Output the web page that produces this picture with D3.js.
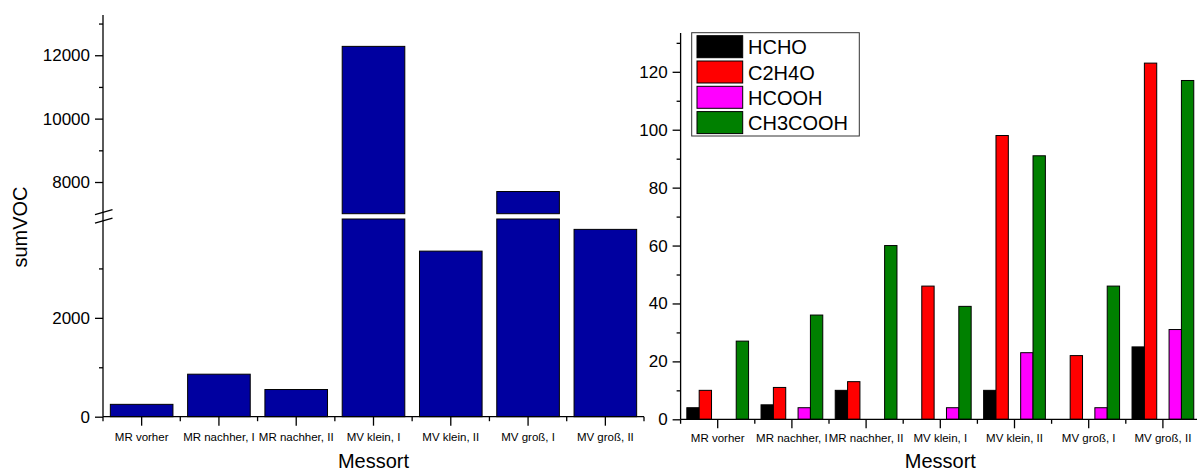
<!DOCTYPE html>
<html>
<head>
<meta charset="utf-8">
<script src="https://cdn.jsdelivr.net/npm/d3@7"></script>
<style>
  body { margin: 0; background: #fff; }
  svg { display: block; font-family: "Liberation Sans", Arial, sans-serif; }
</style>
</head>
<body>
<svg id="chart" width="1197" height="472"></svg>
<script>
// ---------- data ----------
const categories = ["MR vorher", "MR nachher, I", "MR nachher, II", "MV klein, I", "MV klein, II", "MV groß, I", "MV groß, II"];
const sumVOC = [250, 860, 550, 12280, 3350, 7700, 3790];

const seriesNames = ["HCHO", "C2H4O", "HCOOH", "CH3COOH"];
const HCHO    = [4, 5, 10, 0, 10, 0, 25];
const C2H4O   = [10, 11, 13, 46, 98, 22, 123];
const HCOOH   = [0, 4, 0, 4, 23, 4, 31];
const CH3COOH = [27, 36, 60, 39, 91, 46, 117];
const seriesValues = [HCHO, C2H4O, HCOOH, CH3COOH];
const seriesColors = ["#000000", "#ff0000", "#ff00ff", "#008000"];

const leftLowerTicks = [0, 2000];
const leftLowerMinor = [1000, 3000];
const leftUpperTicks = [8000, 10000, 12000];
const leftUpperMinor = [9000, 11000, 13000];
const rightTicks = [0, 20, 40, 60, 80, 100, 120];
const rightMinor = [10, 30, 50, 70, 90, 110, 130];

// ---------- setup ----------
const svg = d3.select("#chart");
const tickFont = 17, catFont = 11.5, titleFont = 20;

// ---------- left chart ----------
const L = { x0: 103, x1: 644, y0: 416.7 };
const xL = d3.scaleBand().domain(categories).range([L.x0, L.x1]).paddingInner(0.19).paddingOuter(0.095);
const yLow = d3.scaleLinear().domain([0, 4000]).range([416.7, 219]);
const yUp = d3.scaleLinear().domain([7000, 13270]).range([213.7, 15]);
const barBlue = "#0000a0";

const gL = svg.append("g");
categories.forEach((c, i) => {
  const v = sumVOC[i];
  const x = xL(c), w = xL.bandwidth();
  const lowTop = v > 4000 ? yLow(4000) : yLow(v);
  gL.append("rect").attr("x", x).attr("y", lowTop).attr("width", w).attr("height", yLow(0) - lowTop)
    .attr("fill", barBlue).attr("stroke", "#000").attr("stroke-width", 1);
  if (v > 7000) {
    const upTop = yUp(v);
    gL.append("rect").attr("x", x).attr("y", upTop).attr("width", w).attr("height", yUp(7000) - upTop)
      .attr("fill", barBlue).attr("stroke", "#000").attr("stroke-width", 1);
  }
});

function styleAxis(g) {
  g.select(".domain").remove();
  g.selectAll("line").attr("stroke", "#000").attr("stroke-width", 1.3);
  g.selectAll("text").attr("font-size", tickFont).attr("fill", "#000")
    .attr("font-family", "'Liberation Sans', Arial, sans-serif");
}

// y axis, lower & upper segments
svg.append("g").attr("transform", `translate(${L.x0},0)`)
  .call(d3.axisLeft(yLow).tickValues(leftLowerTicks).tickSize(8).tickPadding(5).tickFormat(d3.format("d")))
  .call(styleAxis);
svg.append("g").attr("transform", `translate(${L.x0},0)`)
  .call(d3.axisLeft(yLow).tickValues(leftLowerMinor).tickSize(4).tickFormat(""))
  .call(styleAxis);
svg.append("g").attr("transform", `translate(${L.x0},0)`)
  .call(d3.axisLeft(yUp).tickValues(leftUpperTicks).tickSize(8).tickPadding(5).tickFormat(d3.format("d")))
  .call(styleAxis);
svg.append("g").attr("transform", `translate(${L.x0},0)`)
  .call(d3.axisLeft(yUp).tickValues(leftUpperMinor).tickSize(4).tickFormat(""))
  .call(styleAxis);
svg.append("line").attr("x1", L.x0).attr("x2", L.x0).attr("y1", yUp.range()[1]).attr("y2", yLow(0))
  .attr("stroke", "#000").attr("stroke-width", 1.3);
// break marks
const brkMid = (yUp(7000) + yLow(4000)) / 2;
[-4.2, 4.2].forEach(dy => {
  svg.append("line").attr("x1", L.x0 - 8).attr("x2", L.x0 + 9.5)
    .attr("y1", brkMid + dy + 2.5).attr("y2", brkMid + dy - 2.5)
    .attr("stroke", "#000").attr("stroke-width", 1.3);
});

// x axis
function drawXAxis(xs, x0, x1, y, labelBaseline) {
  const g = svg.append("g");
  g.append("line").attr("x1", x0).attr("x2", x1).attr("y1", y).attr("y2", y)
    .attr("stroke", "#000").attr("stroke-width", 1.3);
  const step = xs.step();
  d3.range(categories.length + 1).forEach(k => {
    const bx = x0 + k * step;
    g.append("line").attr("x1", bx).attr("x2", bx).attr("y1", y).attr("y2", y + 4.5)
      .attr("stroke", "#000").attr("stroke-width", 1.3);
  });
  categories.forEach(c => {
    const cx = xs(c) + xs.bandwidth() / 2;
    g.append("line").attr("x1", cx).attr("x2", cx).attr("y1", y).attr("y2", y + 9)
      .attr("stroke", "#000").attr("stroke-width", 1.3);
    g.append("text").attr("x", cx).attr("y", labelBaseline).attr("text-anchor", "middle")
      .attr("font-size", catFont).attr("fill", "#000").text(c);
  });
  g.append("text").attr("x", (x0 + x1) / 2).attr("y", 468).attr("text-anchor", "middle")
    .attr("font-size", titleFont).attr("fill", "#000").text("Messort");
}
drawXAxis(xL, L.x0, L.x1, L.y0, 440.7);

svg.append("text").attr("transform", "translate(27,227) rotate(-90)").attr("text-anchor", "middle")
  .attr("font-size", titleFont).attr("fill", "#000").text("sumVOC");

// ---------- right chart ----------
const R = { x0: 680.6, x1: 1200, y0: 419.3 };
const xR = d3.scaleBand().domain(categories).range([R.x0, R.x1]).paddingInner(0.168).paddingOuter(0.084);
const slots = ["HCHO", "C2H4O", "gap", "HCOOH", "CH3COOH"];
const xSub = d3.scaleBand().domain(slots).range([0, xR.bandwidth()]);
const yR = d3.scaleLinear().domain([0, 133.4]).range([R.y0, 33]);

const gR = svg.append("g");
seriesNames.forEach((s, si) => {
  categories.forEach((c, ci) => {
    const v = seriesValues[si][ci];
    if (v <= 0) return;
    gR.append("rect").attr("x", xR(c) + xSub(s)).attr("y", yR(v))
      .attr("width", xSub.bandwidth()).attr("height", yR(0) - yR(v))
      .attr("fill", seriesColors[si]).attr("stroke", "#000").attr("stroke-width", 1);
  });
});

svg.append("g").attr("transform", `translate(${R.x0},0)`)
  .call(d3.axisLeft(yR).tickValues(rightTicks).tickSize(8).tickPadding(5).tickFormat(d3.format("d")))
  .call(styleAxis);
svg.append("g").attr("transform", `translate(${R.x0},0)`)
  .call(d3.axisLeft(yR).tickValues(rightMinor).tickSize(4).tickFormat(""))
  .call(styleAxis);
svg.append("line").attr("x1", R.x0).attr("x2", R.x0).attr("y1", yR.range()[1]).attr("y2", R.y0)
  .attr("stroke", "#000").attr("stroke-width", 1.3);
drawXAxis(xR, R.x0, R.x1, R.y0, 441.7);

// legend
const lg = svg.append("g");
lg.append("rect").attr("x", 691.7).attr("y", 32.7).attr("width", 167.6).attr("height", 103.3)
  .attr("fill", "#fff").attr("stroke", "#333").attr("stroke-width", 1);
seriesNames.forEach((s, i) => {
  const ry = 35.7 + i * 25.3;
  lg.append("rect").attr("x", 697).attr("y", ry).attr("width", 45.7).attr("height", 22)
    .attr("fill", seriesColors[i]).attr("stroke", "#000").attr("stroke-width", 1);
  lg.append("text").attr("x", 748).attr("y", ry + 18.6).attr("font-size", 20).attr("fill", "#000").text(s);
});
</script>
</body>
</html>
